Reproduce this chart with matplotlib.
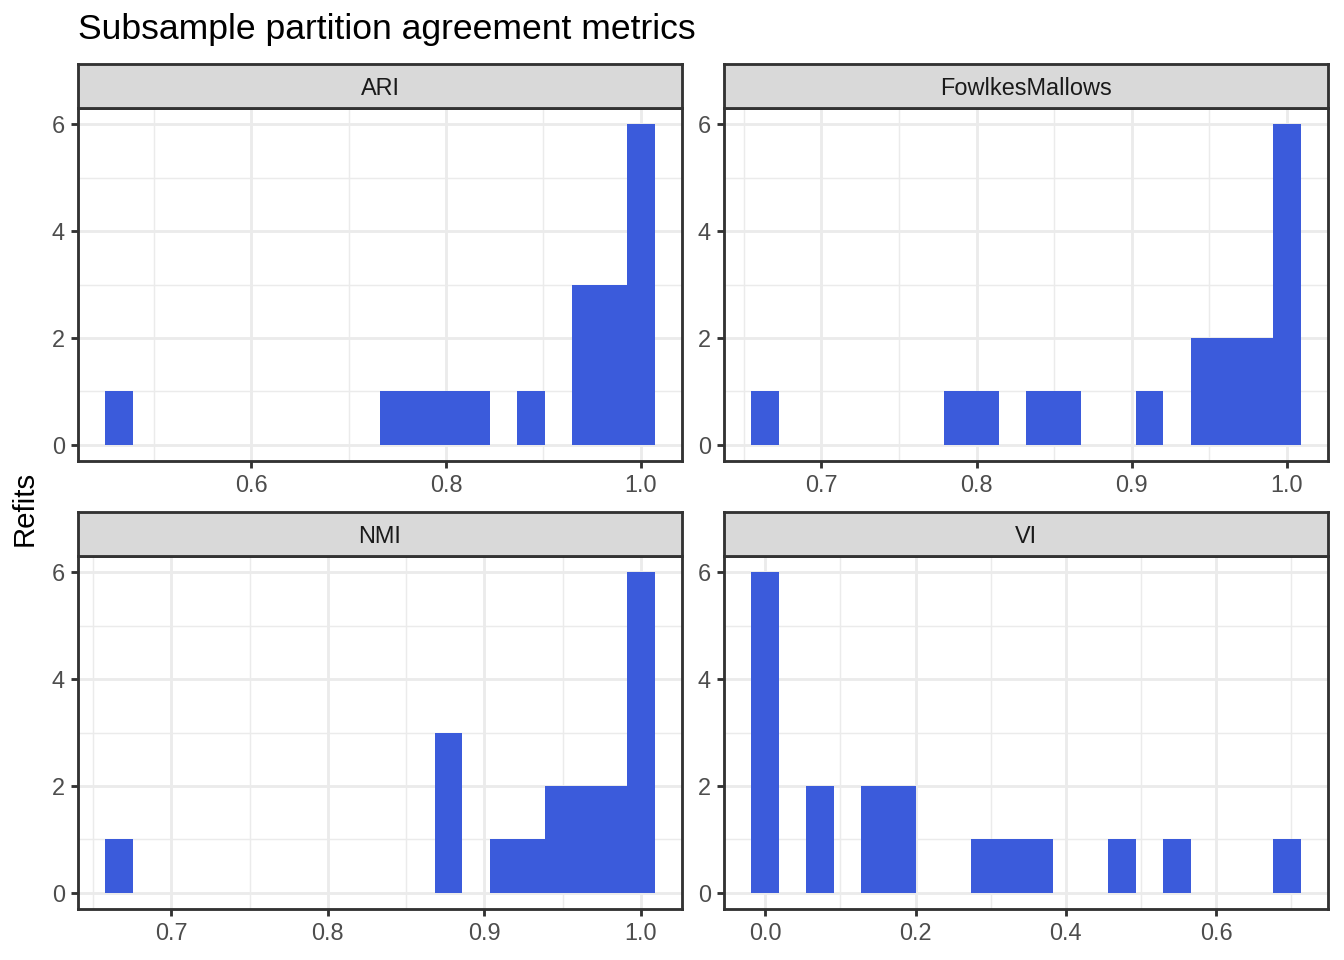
import numpy as np
import matplotlib
matplotlib.use("Agg")
import matplotlib.pyplot as plt
from matplotlib.ticker import FixedLocator, NullFormatter

plt.rcParams['font.family'] = ['Liberation Sans', 'DejaVu Sans']

# ---- data ----
metrics = ["ARI", "FowlkesMallows", "NMI", "VI"]
ari_counts = [1, 0, 0, 0, 0, 0, 0, 0, 0, 0, 1, 1, 1, 1, 0, 1, 0, 3, 3, 6]
fm_counts = [1, 0, 0, 0, 0, 0, 0, 1, 1, 0, 1, 1, 0, 0, 1, 0, 2, 2, 2, 6]
nmi_counts = [1, 0, 0, 0, 0, 0, 0, 0, 0, 0, 0, 0, 3, 0, 1, 1, 2, 2, 2, 6]
vi_counts = [6, 0, 2, 0, 2, 2, 0, 0, 1, 1, 1, 0, 0, 1, 0, 1, 0, 0, 0, 1]
ari_range = (0.4646, 1.0)
fm_range = (0.6637, 1.0)
nmi_range = (0.6667, 1.0)
vi_range = (0.0, 0.694)

ari_ticks = [0.6, 0.8, 1.0]
fm_ticks = [0.7, 0.8, 0.9, 1.0]
nmi_ticks = [0.7, 0.8, 0.9, 1.0]
vi_ticks = [0.0, 0.2, 0.4, 0.6]
ari_minor = [0.5, 0.7, 0.9]
fm_minor = [0.65, 0.75, 0.85, 0.95]
nmi_minor = [0.65, 0.75, 0.85, 0.95]
vi_minor = [0.1, 0.3, 0.5, 0.7]
y_ticks = [0, 2, 4, 6]
y_minor = [1, 3, 5]

title = "Subsample partition agreement metrics"
ylabel = "Refits"

counts_all = [ari_counts, fm_counts, nmi_counts, vi_counts]
ranges_all = [ari_range, fm_range, nmi_range, vi_range]
ticks_all = [ari_ticks, fm_ticks, nmi_ticks, vi_ticks]
minor_all = [ari_minor, fm_minor, nmi_minor, vi_minor]

# ---- layout ----
W, H = 1344, 960
fig = plt.figure(figsize=(7, 5), dpi=192)
fig.patch.set_facecolor('white')

cols = [(78, 682), (724, 1328)]
rows = [(108, 461), (556, 909)]
strip_h = 44

bar_color = '#3B5BDB'
grey20 = '#333333'
lw = 1.07


def px_rect(l, r, t, b):
    return [l / W, 1 - b / H, (r - l) / W, (b - t) / H]


for i, name in enumerate(metrics):
    ri, ci = divmod(i, 2)
    l, r = cols[ci]
    t, b = rows[ri]
    ax = fig.add_axes(px_rect(l, r, t, b))
    counts = np.array(counts_all[i])
    lo, hi = ranges_all[i]
    nb = len(counts)
    w = (hi - lo) / (nb - 1)
    centers = lo + w * np.arange(nb)
    ax.bar(centers, counts, width=w, color=bar_color, linewidth=0, zorder=2)
    e0, e1 = lo - w / 2, hi + w / 2
    pad = 0.05 * (e1 - e0)
    ax.set_xlim(e0 - pad, e1 + pad)
    ax.set_ylim(-0.3, 6.3)
    ax.xaxis.set_major_locator(FixedLocator(ticks_all[i]))
    ax.set_xticklabels([f"{v:.1f}" for v in ticks_all[i]])
    ax.xaxis.set_minor_locator(FixedLocator(minor_all[i]))
    ax.yaxis.set_major_locator(FixedLocator(y_ticks))
    ax.set_yticklabels([str(v) for v in y_ticks])
    ax.yaxis.set_minor_locator(FixedLocator(y_minor))
    ax.xaxis.set_minor_formatter(NullFormatter())
    ax.yaxis.set_minor_formatter(NullFormatter())
    ax.set_axisbelow(True)
    ax.grid(which='major', color='#EBEBEB', linewidth=lw, zorder=0)
    ax.grid(which='minor', color='#EBEBEB', linewidth=lw / 2, zorder=0)
    for s in ax.spines.values():
        s.set_color(grey20)
        s.set_linewidth(lw)
        s.set_zorder(3)
    ax.tick_params(which='major', direction='out', length=2.74, width=lw,
                   color=grey20, labelcolor='#4D4D4D', labelsize=8.8, pad=2.2)
    ax.tick_params(which='minor', length=0)

    sax = fig.add_axes(px_rect(l, r, t - strip_h, t))
    sax.set_facecolor('#D9D9D9')
    sax.set_xticks([])
    sax.set_yticks([])
    for s in sax.spines.values():
        s.set_color(grey20)
        s.set_linewidth(lw)
    sax.text(0.5, 1 - 30.7 / strip_h, name, transform=sax.transAxes,
             ha='center', va='baseline', fontsize=8.8, color='#1A1A1A')

fig.text(78 / W, 1 - 39.5 / H, title, ha='left', va='baseline', fontsize=13.3,
         color='black')
fig.text(25 / W, 1 - 508 / H, ylabel, rotation=90, ha='center', va='center',
         fontsize=11, color='black')

fig.savefig('out.png', dpi=192, facecolor='white')
